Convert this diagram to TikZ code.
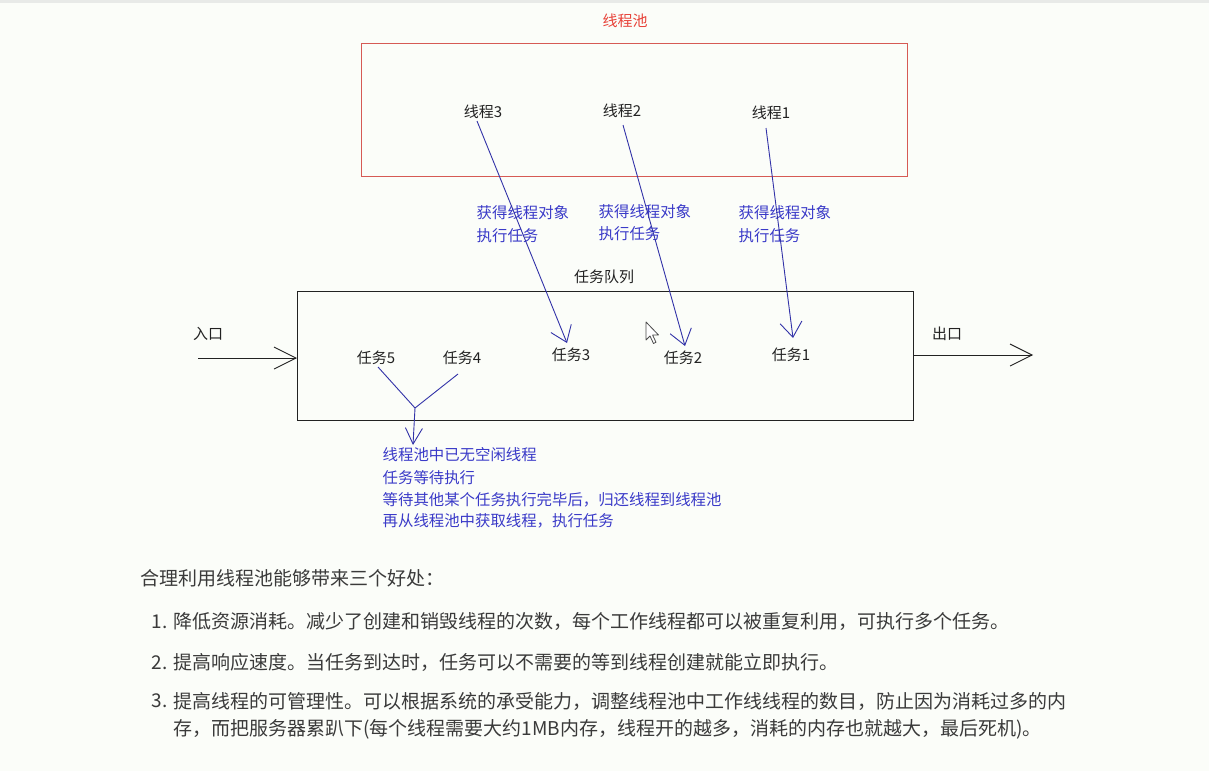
\documentclass[tikz,border=0pt]{standalone}
\usepackage{fontspec}
\newfontfamily\cjk{Noto Sans CJK SC}
\usetikzlibrary{arrows.meta}
\definecolor{bg}{HTML}{FBFDF9}
\definecolor{topgray}{HTML}{E8EAE8}
\definecolor{poolred}{HTML}{D65A55}
\definecolor{titlered}{HTML}{E8433A}
\definecolor{noteblue}{HTML}{3A3AC8}
\definecolor{lineblue}{HTML}{3232A8}
\definecolor{ink}{HTML}{222222}
\definecolor{bodytext}{HTML}{3A3A3A}
\begin{document}
\begin{tikzpicture}[x=1pt,y=-1pt,
  lbl/.style={font=\cjk\fontsize{15}{18}\selectfont, text=ink, inner sep=0pt},
  note/.style={font=\cjk\fontsize{15.4}{18}\selectfont, text=noteblue, inner sep=0pt, anchor=west},
  para/.style={font=\cjk\fontsize{19}{22}\selectfont, text=bodytext, inner sep=0pt, anchor=west},
  barrow/.style={draw=lineblue, line width=0.9pt, -{Straight Barb[length=15pt,width=22pt,line width=0.9pt]}},
  karrow/.style={draw=ink, line width=0.9pt, -{Straight Barb[length=22pt,width=22pt,line width=0.9pt]}},
  bline/.style={draw=lineblue, line width=0.9pt}]
\useasboundingbox (0,0) rectangle (1209,771);
\fill[bg] (0,0) rectangle (1209,771);
\fill[topgray] (0,0) rectangle (1209,2.5);

% thread pool
\node[lbl, text=titlered] (pooltitle) at (625,20.5) {线程池};
\node[draw=poolred, line width=1.4pt, minimum width=546pt, minimum height=133pt, anchor=north west, inner sep=0pt] (pool) at (361,43) {};
\node[lbl] (t3) at (483,112) {线程3};
\node[lbl] (t2) at (622,111) {线程2};
\node[lbl] (t1) at (771,113) {线程1};

% notes
\node[note] (g3a) at (476.5,213) {获得线程对象};
\node[note] (g3b) at (476.5,235.5) {执行任务};
\node[note] (g2a) at (598.5,212) {获得线程对象};
\node[note] (g2b) at (598.5,234) {执行任务};
\node[note] (g1a) at (738.5,213) {获得线程对象};
\node[note] (g1b) at (738.5,235.5) {执行任务};

% task queue
\node[lbl] (qtitle) at (604,277) {任务队列};
\node[draw=ink, line width=1.3pt, minimum width=616pt, minimum height=129pt, anchor=north west, inner sep=0pt] (queue) at (297,291) {};
\node[lbl] (k5) at (376,358) {任务5};
\node[lbl] (k4) at (462,358) {任务4};
\node[lbl] (k3) at (571,355) {任务3};
\node[lbl] (k2) at (683,358) {任务2};
\node[lbl] (k1) at (791,355) {任务1};

\node[lbl] (inlbl) at (208,334) {入口};
\node[lbl] (outlbl) at (947,334) {出口};

% arrows thread -> task
\coordinate (s3) at (477,121);
\coordinate (e3) at (567,343);
\coordinate (s2) at (623,125);
\coordinate (e2) at (685,346);
\coordinate (s1) at (766,128);
\coordinate (e1) at (793,338);
\draw[barrow] (s3) -- (e3);
\draw[barrow] (s2) -- (e2);
\draw[barrow] (s1) -- (e1);

% entry / exit
\coordinate (inS) at (198,358);
\draw[karrow] (inS) -- (inS -| queue.west);
\coordinate (outE) at (1033,355);
\draw[karrow] (outE -| queue.east) -- (outE);

% waiting tasks
\coordinate (y5) at (378,367);
\coordinate (y4) at (458,374);
\coordinate (yj) at (415,408);
\coordinate (ye) at (413,445);
\draw[bline] (y5) -- (yj) -- (y4);
\draw[draw=lineblue, line width=0.9pt, -{Straight Barb[length=16pt,width=17pt,line width=0.9pt]}] (yj) -- (ye);

\node[note] (w1) at (382.5,455) {线程池中已无空闲线程};
\node[note] (w2) at (382.5,477.5) {任务等待执行};
\node[note] (w3) at (382.5,499.5) {等待其他某个任务执行完毕后，归还线程到线程池};
\node[note] (w4) at (382.5,521) {再从线程池中获取线程，执行任务};

% mouse cursor
\filldraw[fill=white, draw=black!70, line width=0.8pt, line join=round]
  (646,322) -- (646,340) -- (650,336) -- (653.5,343.5) -- (656,342.3) -- (652.6,335) -- (658.5,335) -- cycle;

% body text
\node[para] (intro) at (140,578) {合理利用线程池能够带来三个好处：};
\node[para, anchor=east] (n1) at (168,621.5) {1.};
\node[para] (p1) at (173,621.5) {降低资源消耗。减少了创建和销毁线程的次数，每个工作线程都可以被重复利用，可执行多个任务。};
\node[para, anchor=east] (n2) at (168,662.5) {2.};
\node[para] (p2) at (173,662.5) {提高响应速度。当任务到达时，任务可以不需要的等到线程创建就能立即执行。};
\node[para, anchor=east] (n3) at (168,701) {3.};
\node[para] (p3a) at (173,701) {提高线程的可管理性。可以根据系统的承受能力，调整线程池中工作线线程的数目，防止因为消耗过多的内};
\node[para] (p3b) at (173,729) {存，而把服务器累趴下(每个线程需要大约1MB内存，线程开的越多，消耗的内存也就越大，最后死机)。};
\end{tikzpicture}
\end{document}
